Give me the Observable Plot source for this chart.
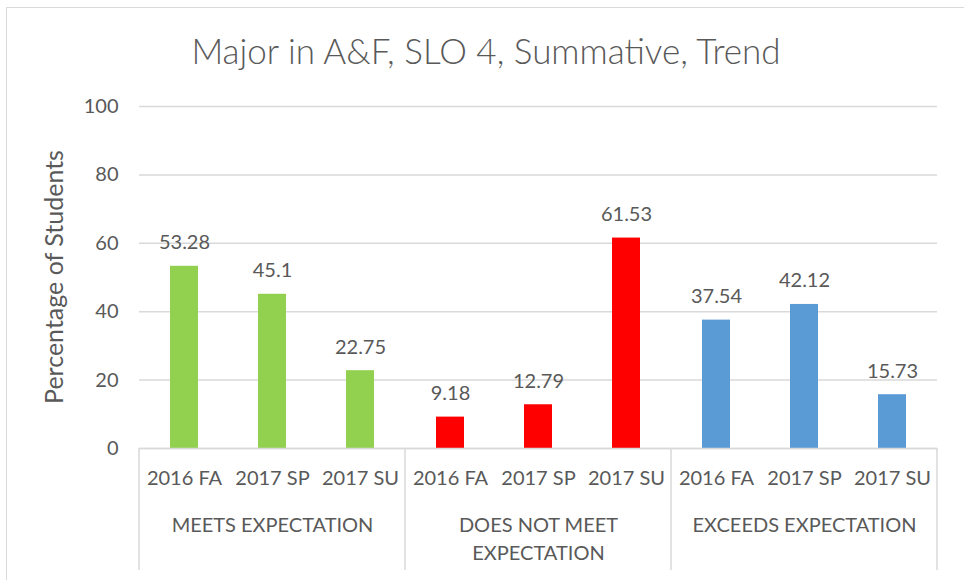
<!DOCTYPE html>
<html>
<head>
<meta charset="utf-8">
<script src="https://cdn.jsdelivr.net/npm/d3@7"></script>
<script src="https://cdn.jsdelivr.net/npm/@observablehq/plot@0.6"></script>
<style>
  html, body { margin: 0; padding: 0; background: #fff; overflow: hidden; }
  #wrap { position: relative; width: 964px; height: 580px; }
  #border { position: absolute; left: 6px; top: 7px; width: 980px; height: 600px;
            border: 1.5px solid #d9d9d9; box-sizing: border-box; pointer-events: none; }
  #title { position: absolute; left: 4px; top: 0; width: 964px; height: 90px;
           text-align: center; font-family: Lato, sans-serif; font-weight: 300;
           font-size: 35px; line-height: 100px; color: #595959; }
  #chart { position: absolute; left: 0; top: 90px; }
</style>
</head>
<body>
<div id="wrap">
  <div id="border"></div>
  <div id="title"></div>
  <div id="chart"></div>
</div>
<script>
const titleText = "Major in A&F, SLO 4, Summative, Trend";
const yLabel = "Percentage of Students";
const groups = ["MEETS EXPECTATION", "DOES NOT MEET EXPECTATION", "EXCEEDS EXPECTATION"];
const groupLabels = ["MEETS EXPECTATION", "DOES NOT MEET\nEXPECTATION", "EXCEEDS EXPECTATION"];
const terms = ["2016 FA", "2017 SP", "2017 SU"];
const meets = [53.28, 45.1, 22.75];
const doesNotMeet = [9.18, 12.79, 61.53];
const exceeds = [37.54, 42.12, 15.73];
const groupColors = ["#92D050", "#FF0000", "#5B9BD5"];
const yTicks = [0, 20, 40, 60, 80, 100];

const seriesValues = [meets, doesNotMeet, exceeds];
const data = [];
groups.forEach((g, gi) => terms.forEach((t, ti) => data.push({group: g, term: t, value: seriesValues[gi][ti]})));

document.getElementById("title").textContent = titleText;

const textColor = "#595959";
const gridColor = "#d9d9d9";

const plot = Plot.plot({
  width: 964,
  height: 490,
  marginLeft: 139,
  marginRight: 27,
  marginTop: 16,
  marginBottom: 132,
  style: {fontFamily: "Lato, sans-serif", fontSize: "20px", color: textColor, background: "transparent", overflow: "visible"},
  fx: {domain: groups, padding: 0, label: null},
  x: {domain: terms, paddingInner: 0.685, paddingOuter: 0.3425, label: null},
  y: {domain: [0, 100], label: null},
  color: {domain: groups, range: groupColors},
  marks: [
    Plot.gridY(yTicks, {stroke: gridColor, strokeOpacity: 1, strokeWidth: 1.5}),
    Plot.axisY(yTicks, {tickSize: 0, tickPadding: 21, fontSize: 20, label: null}),
    Plot.barY(data, {fx: "group", x: "term", y: "value", fill: "group"}),
    Plot.text(data, {fx: "group", x: "term", y: "value", text: d => String(d.value),
                     dy: -17, lineAnchor: "bottom", fontSize: 20, fill: textColor}),
    Plot.ruleY([0], {stroke: gridColor, strokeWidth: 1.5}),
    Plot.axisX({tickSize: 0, tickPadding: 22, fontSize: 20, label: null}),
    Plot.axisFx({anchor: "bottom", tickSize: 0, tickPadding: 64, fontSize: 20, lineHeight: 1.4,
                 label: null, tickFormat: d => groupLabels[groups.indexOf(d)]})
  ]
});
document.getElementById("chart").appendChild(plot);

const fx = plot.scale("fx");
const y = plot.scale("y");
const y0 = y.apply(0);
const yMid = (y.apply(0) + y.apply(100)) / 2;

// y-axis title, centred on the plot's vertical extent
d3.select(plot).append("text")
  .attr("transform", `translate(57,${yMid}) rotate(-90)`)
  .attr("text-anchor", "middle").attr("dominant-baseline", "middle")
  .attr("fill", textColor).attr("font-size", 25)
  .text(yLabel);

// group separators for the two-level category axis, placed with the plot's own scales
const edges = groups.map(g => fx.apply(g));
edges.push(fx.apply(groups[groups.length - 1]) + fx.bandwidth);
d3.select(plot).append("g")
  .attr("stroke", gridColor).attr("stroke-width", 1.5)
  .selectAll("line").data(edges).join("line")
  .attr("x1", d => d).attr("x2", d => d)
  .attr("y1", y0).attr("y2", 480);
</script>
</body>
</html>
